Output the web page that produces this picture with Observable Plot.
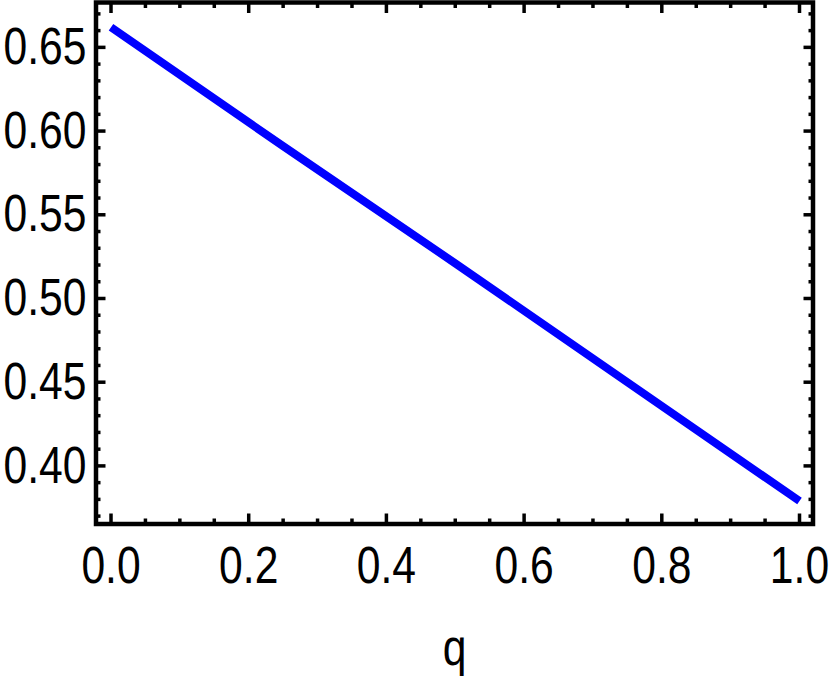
<!DOCTYPE html>
<html>
<head>
<meta charset="utf-8">
<script src="https://cdn.jsdelivr.net/npm/d3@7"></script>
<script src="https://cdn.jsdelivr.net/npm/@observablehq/plot@0.6"></script>
<style>
  html, body { margin: 0; padding: 0; background: #fff; }
  #chart { width: 830px; height: 678px; }
</style>
</head>
<body>
<div id="chart"></div>
<script>
// Data
const qValues = [0, 0.25, 0.5, 0.75, 1.0];
const seriesValues = [0.662, 0.591, 0.521, 0.450, 0.379];

// Tick values
const xMajorTicks = [0, 0.2, 0.4, 0.6, 0.8, 1.0];
const xMinorTicks = [0.05, 0.1, 0.15, 0.25, 0.3, 0.35, 0.45, 0.5, 0.55, 0.65, 0.7, 0.75, 0.85, 0.9, 0.95];
const yMajorTicks = [0.40, 0.45, 0.50, 0.55, 0.60, 0.65];
const yMinorTicks = [0.37, 0.38, 0.39, 0.41, 0.42, 0.43, 0.44, 0.46, 0.47, 0.48, 0.49,
                     0.51, 0.52, 0.53, 0.54, 0.56, 0.57, 0.58, 0.59, 0.61, 0.62, 0.63, 0.64, 0.66, 0.67];
const xLabel = "q";

// Plot ranges (with Mathematica-like padding)
const xDomain = [-0.0218, 1.0196];
const yDomain = [0.3653, 0.6768];

const data = qValues.map((q, i) => ({q, v: seriesValues[i]}));

const font = "'Liberation Sans', Arial, sans-serif";
const fs = 52;
const tickW = 3.5;
const noText = () => "";

const tickOpts = (size) => ({tickSize: size, strokeWidth: tickW, tickFormat: noText, label: null, stroke: "#000"});

const chart = Plot.plot({
  width: 830,
  height: 678,
  marginLeft: 95.5,
  marginRight: 17.5,
  marginTop: 2,
  marginBottom: 154.5,
  style: {fontFamily: font, color: "#000", background: "#fff"},
  x: {domain: xDomain},
  y: {domain: yDomain},
  marks: [
    Plot.line(data, {x: "q", y: "v", stroke: "#0000ff", strokeWidth: 8, strokeLinecap: "butt"}),
    // major ticks, all four sides, pointing inward
    Plot.axisX(xMajorTicks, {anchor: "bottom", ...tickOpts(-10)}),
    Plot.axisX(xMajorTicks, {anchor: "top", ...tickOpts(-10)}),
    Plot.axisY(yMajorTicks, {anchor: "left", ...tickOpts(-10)}),
    Plot.axisY(yMajorTicks, {anchor: "right", ...tickOpts(-10)}),
    // minor ticks
    Plot.axisX(xMinorTicks, {anchor: "bottom", ...tickOpts(-5)}),
    Plot.axisX(xMinorTicks, {anchor: "top", ...tickOpts(-5)}),
    Plot.axisY(yMinorTicks, {anchor: "left", ...tickOpts(-5)}),
    Plot.axisY(yMinorTicks, {anchor: "right", ...tickOpts(-5)}),
    // tick labels
    Plot.axisX(xMajorTicks, {anchor: "bottom", tickSize: 0, tickPadding: 22.5, tickFormat: d3.format(".1f"),
      fontSize: fs, fontFamily: font, fill: "#000", label: null}),
    Plot.axisY(yMajorTicks, {anchor: "left", tickSize: 0, tickPadding: 9.5, tickFormat: d3.format(".2f"),
      fontSize: fs, fontFamily: font, fill: "#000", label: null}),
    // axis label
    Plot.text([xLabel], {text: d => d, frameAnchor: "bottom", lineAnchor: "top", dy: 104.5,
      fontSize: fs, fontFamily: font, fill: "#000"}),
    Plot.frame({stroke: "#000", strokeWidth: 4.5})
  ]
});

// Condense the glyphs horizontally (reference uses a narrow sans face)
d3.select(chart).selectAll("text").each(function () {
  if (this.textContent.trim() === "") { this.remove(); return; }
  const t = this.getAttribute("transform") || "";
  this.setAttribute("transform", (t + " scale(0.82,1)").trim());
});

document.getElementById("chart").appendChild(chart);
</script>
</body>
</html>
